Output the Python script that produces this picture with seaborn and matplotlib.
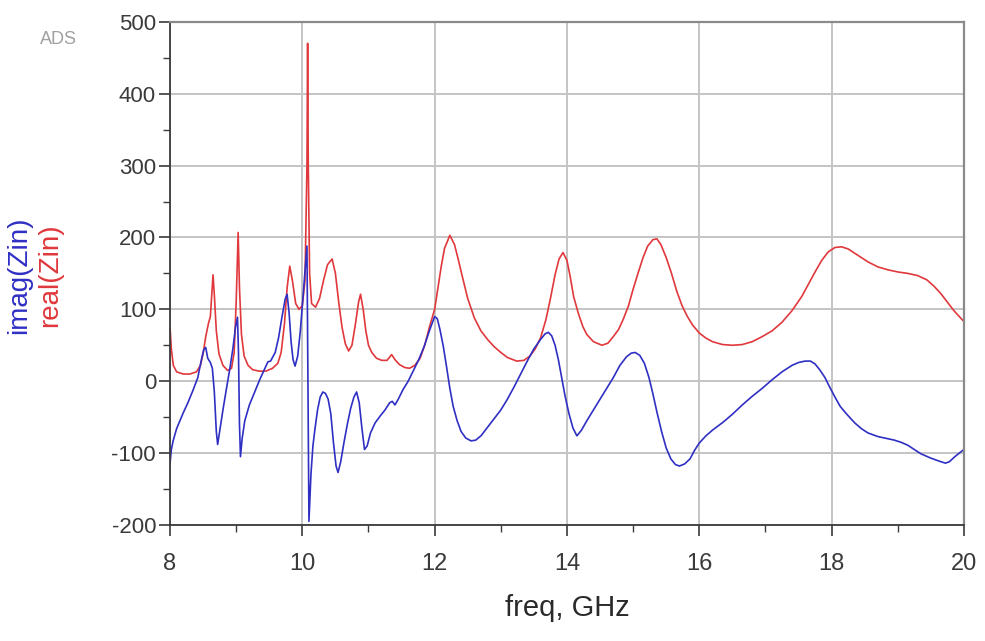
import numpy as np
import pandas as pd
import matplotlib
matplotlib.use("Agg")
import matplotlib.pyplot as plt
from matplotlib.ticker import MultipleLocator
import seaborn as sns

# Input impedance Zin versus frequency (GHz)
real_freq = [8.00, 8.02, 8.05, 8.10, 8.20, 8.30, 8.40, 8.46, 8.50, 8.54, 8.58, 8.61, 8.63, 8.65,
             8.67, 8.70, 8.74, 8.80, 8.87, 8.93, 8.97, 9.00, 9.03, 9.05, 9.08, 9.12, 9.18, 9.25,
             9.35, 9.45, 9.55, 9.63, 9.68, 9.73, 9.77, 9.81, 9.85, 9.90, 9.95, 10.00, 10.04,
             10.07, 10.08, 10.09, 10.11, 10.14, 10.20, 10.26, 10.32, 10.38, 10.45, 10.50, 10.55,
             10.60, 10.65, 10.70, 10.75, 10.80, 10.85, 10.88, 10.92, 10.96, 11.00, 11.05, 11.12,
             11.20, 11.28, 11.35, 11.40, 11.47, 11.55, 11.62, 11.70, 11.78, 11.85, 11.92,
             12.00, 12.05, 12.10, 12.15, 12.23, 12.30, 12.35, 12.42, 12.50, 12.60, 12.70, 12.80,
             12.90, 13.00, 13.10, 13.24, 13.35, 13.44, 13.52, 13.60, 13.68, 13.75, 13.82, 13.88,
             13.94, 14.00, 14.05, 14.10, 14.17, 14.24, 14.30, 14.40, 14.53, 14.62, 14.70, 14.78,
             14.85, 14.93, 15.00, 15.08, 15.15, 15.22, 15.30, 15.36, 15.42, 15.50, 15.58, 15.66,
             15.74, 15.82, 15.90, 16.00, 16.10, 16.20, 16.35, 16.50, 16.65, 16.80, 16.95, 17.10,
             17.25, 17.40, 17.55, 17.65, 17.75, 17.85, 17.95, 18.05, 18.15, 18.25, 18.40, 18.55,
             18.70, 18.85, 19.00, 19.15, 19.30, 19.44, 19.55, 19.65, 19.75, 19.85, 19.93, 20.00]
real_zin = [76, 45, 22, 13, 10, 10, 13, 22, 38, 62, 80, 90, 120, 148,
            120, 70, 38, 22, 15, 18, 40, 110, 207, 130, 65, 35, 22, 16,
            14, 14, 18, 25, 40, 80, 130, 160, 140, 108, 100, 105, 140,
            300, 470, 300, 150, 108, 103, 115, 140, 162, 170, 150, 110,
            75, 52, 42, 50, 78, 110, 121, 100, 70, 50, 40, 32,
            29, 29, 37, 30, 23, 19, 18, 22, 32, 50, 75,
            100, 130, 160, 185, 203, 190, 172, 145, 115, 88, 70, 58,
            48, 40, 33, 28, 29, 35, 45, 60, 85, 115, 148, 170,
            179, 168, 145, 118, 95, 76, 65, 55, 50, 53, 62, 72,
            86, 105, 128, 152, 172, 188, 197, 198, 190, 172, 150, 125,
            105, 90, 78, 67, 60, 55, 51, 50, 51, 55, 62, 70,
            82, 98, 118, 135, 152, 168, 180, 186, 187, 184, 175, 166,
            159, 155, 152, 150, 147, 141, 132, 122, 110, 98, 90, 83]

imag_freq = [8.00, 8.02, 8.05, 8.10, 8.15, 8.20, 8.27, 8.35, 8.42, 8.47, 8.51, 8.54, 8.57, 8.61,
             8.64, 8.67, 8.70, 8.72, 8.75, 8.80, 8.85, 8.90, 8.95, 8.99, 9.02, 9.035, 9.05,
             9.065, 9.09, 9.13, 9.20, 9.28, 9.36, 9.44, 9.48, 9.52, 9.59, 9.64, 9.69, 9.74,
             9.77, 9.80, 9.83, 9.86, 9.89, 9.93, 9.97, 10.01, 10.05, 10.07, 10.085, 10.10,
             10.13, 10.16, 10.19, 10.23, 10.27, 10.31, 10.35, 10.39, 10.43, 10.47, 10.51, 10.54,
             10.58, 10.63, 10.68, 10.73, 10.78, 10.82, 10.86, 10.90, 10.94, 10.98, 11.03, 11.10,
             11.18, 11.25, 11.32, 11.36, 11.40, 11.45, 11.52, 11.60, 11.68, 11.76, 11.84, 11.92,
             12.00, 12.04, 12.08, 12.13, 12.18, 12.23, 12.28, 12.34, 12.40, 12.47, 12.55, 12.62,
             12.70, 12.80, 12.90, 13.00, 13.10, 13.20, 13.30, 13.40, 13.50, 13.60, 13.67, 13.72,
             13.77, 13.82, 13.87, 13.92, 13.97, 14.03, 14.09, 14.15, 14.22, 14.30, 14.40, 14.50,
             14.60, 14.70, 14.80, 14.90, 14.97, 15.03, 15.10, 15.17, 15.24, 15.30, 15.36, 15.43,
             15.50, 15.57, 15.64, 15.70, 15.78, 15.86, 15.93, 16.00, 16.10, 16.20, 16.36, 16.50,
             16.65, 16.80, 16.95, 17.10, 17.25, 17.40, 17.50, 17.60, 17.68, 17.75, 17.82, 17.90,
             17.97, 18.05, 18.13, 18.23, 18.35, 18.45, 18.55, 18.70, 18.85, 18.95, 19.05, 19.15,
             19.25, 19.35, 19.50, 19.62, 19.72, 19.78, 19.85, 19.93, 20.00]
imag_zin = [-115, -95, -82, -66, -55, -44, -30, -12, 5, 28, 44, 47, 32, 26,
            18, -15, -70, -88, -70, -40, -12, 15, 45, 75, 89, 40, -60,
            -105, -80, -55, -33, -15, 3, 19, 27, 28, 40, 60, 88, 114,
            121, 95, 55, 30, 21, 35, 70, 118, 165, 188, 0, -195,
            -130, -90, -67, -40, -22, -15, -17, -25, -45, -85, -118, -127,
            -112, -85, -60, -38, -22, -15, -30, -65, -95, -90, -72, -58,
            -48, -40, -30, -28, -33, -25, -12, 0, 15, 30, 48, 70,
            90, 87, 72, 49, 20, -10, -35, -55, -70, -79, -83, -82,
            -76, -64, -52, -40, -25, -8, 10, 28, 45, 58, 66, 68,
            63, 50, 30, 5, -20, -45, -65, -76, -68, -55, -40, -25,
            -10, 5, 22, 34, 39, 40, 36, 25, 5, -18, -43, -70,
            -93, -108, -116, -118, -115, -108, -96, -86, -76, -68, -57, -46,
            -33, -21, -10, 2, 13, 22, 26, 28, 28, 24, 16, 5,
            -8, -22, -35, -46, -58, -66, -72, -77, -80, -82, -85, -89,
            -95, -101, -107, -111, -114, -112, -106, -100, -95]

x_ticks = [8, 10, 12, 14, 16, 18, 20]
y_ticks = [-200, -100, 0, 100, 200, 300, 400, 500]

real_df = pd.DataFrame({"freq": real_freq, "Zin": real_zin})
imag_df = pd.DataFrame({"freq": imag_freq, "Zin": imag_zin})

sns.set_style("white")
plt.rcParams["font.family"] = ["Liberation Sans", "DejaVu Sans"]
plt.rcParams["axes.unicode_minus"] = False

fig = plt.figure(figsize=(9.85, 6.41), dpi=100)
ax = fig.add_axes([0.1726, 0.181, 0.806, 0.785])

red = "#e0383c"
blue = "#2f2fc4"
sns.lineplot(data=real_df, x="freq", y="Zin", ax=ax, color=red, lw=1.2,
             estimator=None, sort=False)
sns.lineplot(data=imag_df, x="freq", y="Zin", ax=ax, color=blue, lw=1.2,
             estimator=None, sort=False)

ax.set_xlim(8, 20)
ax.set_ylim(-200, 500)
ax.set_xticks(x_ticks)
ax.set_yticks(y_ticks)
ax.xaxis.set_minor_locator(MultipleLocator(1))
ax.yaxis.set_minor_locator(MultipleLocator(50))

ax.grid(True, which="major", color="#c4c4c4", lw=1.4)
ax.set_axisbelow(True)

for side in ("left", "bottom"):
    ax.spines[side].set_color("#3a3a3a")
    ax.spines[side].set_linewidth(1.3)
for side in ("top", "right"):
    ax.spines[side].set_color("#8a8a8a")
    ax.spines[side].set_linewidth(1.6)

ax.tick_params(which="major", direction="out", length=8, width=1.2, color="#3a3a3a",
               left=True, bottom=True, top=False, right=False)
ax.tick_params(which="minor", direction="out", length=5, width=1.0, color="#3a3a3a",
               left=True, bottom=True, top=False, right=False)
ax.tick_params(axis="y", labelsize=16, labelcolor="#3a3a3a", pad=2)
ax.tick_params(axis="x", labelsize=17, labelcolor="#3a3a3a", pad=12)
for lbl in ax.get_xticklabels():
    lbl.set_family(["Liberation Sans Narrow", "Liberation Sans", "DejaVu Sans"])

ax.set_xlabel("freq, GHz", fontsize=21, color="#2a2a2a", labelpad=14)
ax.set_ylabel("")

fig.text(0.019, 0.57, "imag(Zin)", rotation=90, color=blue, fontsize=20,
         ha="center", va="center")
fig.text(0.051, 0.57, "real(Zin)", rotation=90, color=red, fontsize=20,
         ha="center", va="center")
fig.text(0.059, 0.938, "ADS", color="#a0a0a0", fontsize=13, ha="center", va="center")

fig.savefig("out.png", dpi=100)
